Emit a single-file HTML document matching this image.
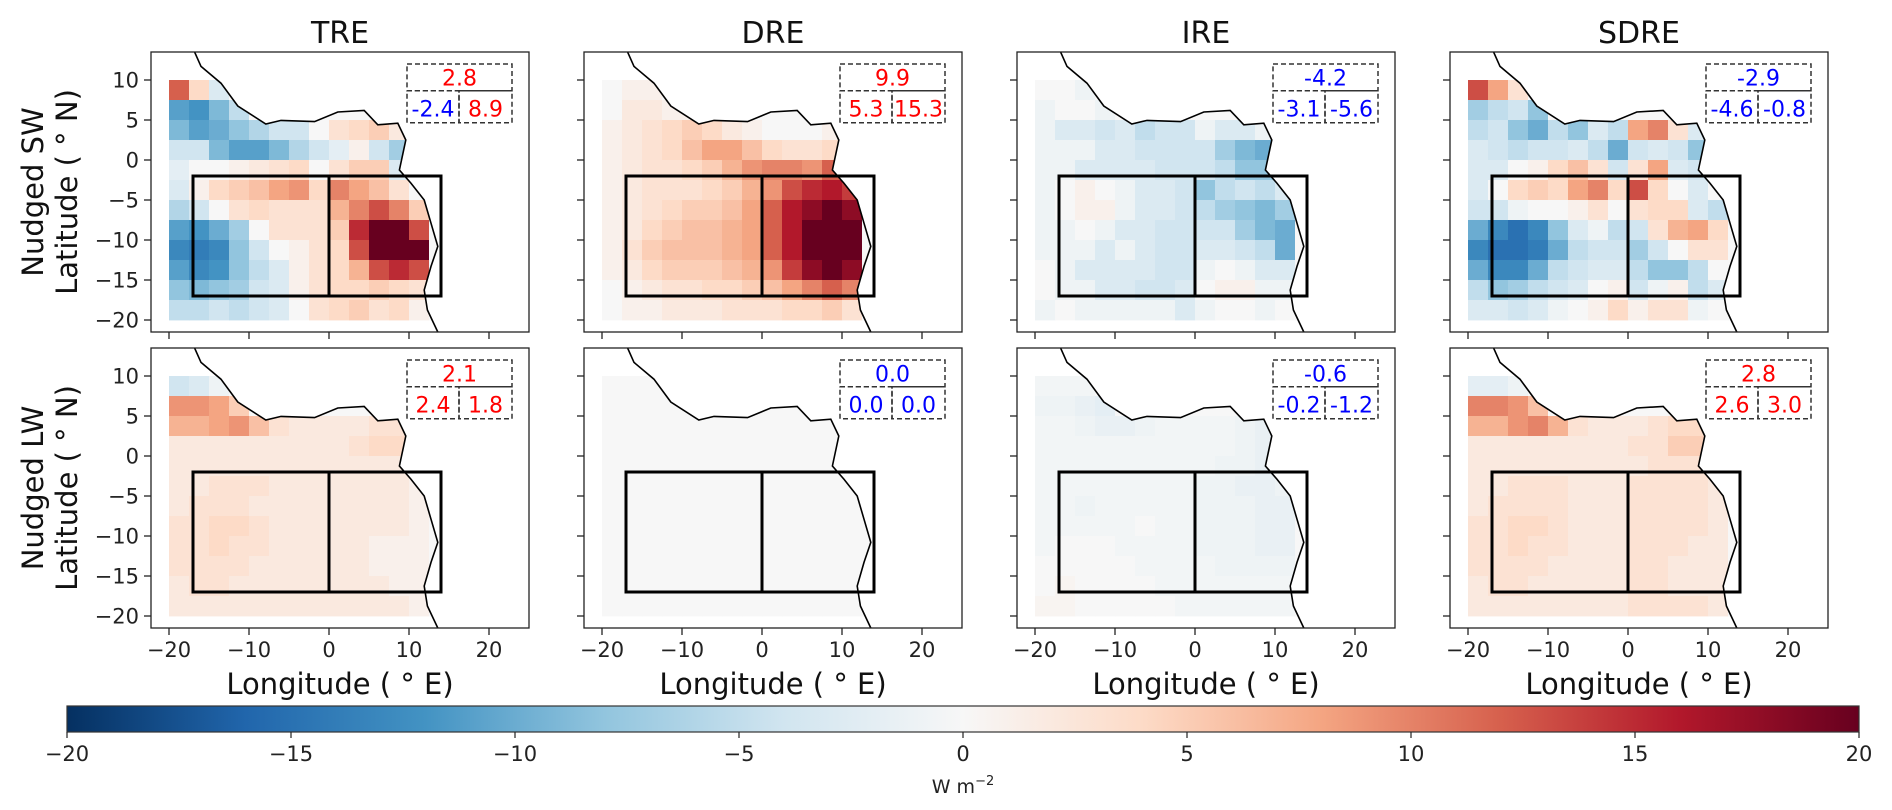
<!DOCTYPE html>
<html><head><meta charset="utf-8"><style>
html,body{margin:0;padding:0;background:#fff}
svg{display:block;font-family:"DejaVu Sans","Liberation Sans",sans-serif}
</style></head><body>
<svg id="fig" width="1892" height="810" viewBox="0 0 1892 810" xmlns="http://www.w3.org/2000/svg"></svg>
<script>
// ---- data ----
const panelTitles = ["TRE","DRE","IRE","SDRE"];
const rowLabels = ["Nudged SW","Nudged LW"];
const cellLons = [-20,-17.5,-15,-12.5,-10,-7.5,-5,-2.5,0,2.5,5,7.5,10,12.5];
const cellLats = [10,7.5,5,2.5,0,-2.5,-5,-7.5,-10,-12.5,-15,-17.5];
const xTicks = [-20,-10,0,10,20];
const yTicks = [10,5,0,-5,-10,-15,-20];
const cbTicks = [-20,-15,-10,-5,0,5,10,15,20];
const coastLon = [-16.8,-16.0,-13.5,-11.4,-7.9,-6.0,-1.8,1.1,4.4,6.1,8.6,9.6,8.8,10.25,11.9,12.75,13.6,12.75,11.9,12.3,13.6];
const coastLat = [13.5,11.7,9.6,6.75,4.5,4.95,4.8,6.0,6.2,4.4,4.6,2.5,-1.25,-2.9,-5.0,-7.9,-10.8,-13.3,-16.25,-18.75,-21.5];
const boxLons = [-17,0,14];
const boxLats = [-2,-17];

const sw_tre = [
[12,4,-3,0,0,0,0,0,0,0,0,0,0,0],
[-11,-12,-9,-5,0,0,0,0,0,0,0,0,0,0],
[-9,-11,-10,-8,-6,-4,-4,0,3,4,5,2,0,0],
[-4,-4,-9,-11,-11,-9,-6,-4,-2,1,-4,-7,0,0],
[-2,0,0,1,2,3,4,0,3,5,5,-3,0,0],
[-3,1,4,5,6,8,9,4,10,8,6,3,0,0],
[-6,-4,0,3,4,3,3,3,7,10,13,10,5,0],
[-11,-12,-10,-7,0,3,3,3,5,15,20,20,13,0],
[-13,-14,-13,-8,-4,0,1,3,4,13,20,20,20,0],
[-11,-13,-12,-8,-5,-3,1,3,4,7,13,15,13,0],
[-8,-9,-8,-7,-4,-3,1,3,4,4,5,4,3,0],
[-5,-5,-4,-5,-4,-3,0,3,4,5,3,4,1,0]];
const sw_dre = [
[0,1,1,0,0,0,0,0,0,0,0,0,0,0],
[0,2,2,1,1,0,0,0,0,0,0,0,0,0],
[1,2,3,4,5,4,2,1,0,0,0,1,0,0],
[1,2,3,4,6,8,8,6,4,3,3,4,0,0],
[1,2,3,3,4,5,7,9,10,10,9,12,0,0],
[1,2,3,3,3,4,5,7,9,13,15,16,14,0],
[1,2,3,4,5,5,6,8,12,16,18,20,18,0],
[1,2,4,5,6,6,7,8,12,16,20,20,20,0],
[1,3,5,6,6,6,7,8,12,16,20,20,20,0],
[1,2,4,5,5,5,6,7,9,14,18,20,18,0],
[0,1,2,3,3,4,4,5,6,8,10,12,10,0],
[0,1,1,2,2,2,3,3,3,4,4,5,3,0]];
const sw_ire = [
[0,0,-1,0,0,0,0,0,0,0,0,0,0,0],
[-1,0,0,-1,0,0,0,0,0,0,0,0,0,0],
[-1,-3,-3,-4,-3,-5,-4,-4,-1,-3,-3,-1,0,0],
[-1,-1,-1,-3,-3,-4,-4,-4,-4,-7,-9,-10,0,0],
[-1,-1,-3,-3,-3,-3,-4,-4,-4,-5,-8,-8,0,0],
[-1,0,1,0,-1,-3,-3,-4,-8,-5,-4,-5,-3,0],
[-1,0,1,1,-1,-3,-3,-4,-5,-7,-8,-9,-7,0],
[-1,-1,0,-1,-3,-3,-4,-4,-4,-4,-7,-9,-10,0],
[-1,-1,-1,-3,-1,-3,-4,-4,-3,-3,-4,-5,-10,0],
[0,-1,-3,-3,-3,-3,-4,-4,-1,0,-1,-3,-3,0],
[0,-1,-1,-3,-3,-4,-4,-3,0,1,1,-1,-1,0],
[-1,0,-1,-1,-1,-1,-1,-3,-1,0,0,-1,0,0]];
const sw_sdre = [
[13,8,3,0,0,0,0,0,0,0,0,0,0,0],
[-7,-5,-4,-8,0,0,0,0,0,0,0,0,0,0],
[-5,-4,-8,-10,-5,-8,-3,-5,8,10,3,-3,0,0],
[-3,-4,-5,-4,-4,-3,-5,-10,-4,-3,-4,-8,0,0],
[-3,-3,0,1,4,6,3,-4,3,8,-3,-4,0,0],
[-3,0,4,5,4,8,10,4,13,4,0,-3,0,0],
[-4,-4,-1,0,0,1,3,0,3,4,4,-3,-5,0],
[-10,-13,-15,-13,-8,-3,-1,-5,-4,3,7,8,4,0],
[-13,-15,-15,-14,-10,-5,-4,-4,-7,-4,0,3,3,0],
[-10,-13,-13,-10,-5,-4,-3,-3,-5,-8,-8,-5,0,0],
[-5,-8,-7,-5,-4,-3,0,1,-4,-1,1,-5,-3,0],
[-3,-3,-4,-3,-1,0,1,4,1,3,3,-1,0,0]];
const lw_tre = [
[-4,-3,-1,0,0,0,0,0,0,0,0,0,0,0],
[9,9,8,5,0,0,0,0,0,0,0,0,0,0],
[7,7,8,9,6,3,2,2,2,2,3,3,0,0],
[2,2,2,2,2,2,2,2,2,3,4,4,0,0],
[2,2,2,2,2,2,2,2,2,2,2,2,0,0],
[2,2,3,3,3,2,2,2,2,2,2,2,1,0],
[2,3,3,3,2,2,2,2,2,2,2,2,1,0],
[3,3,4,4,3,2,2,2,2,2,2,2,1,0],
[3,3,4,3,3,2,2,2,2,2,1,1,1,0],
[3,3,3,3,2,2,2,2,2,2,1,1,1,0],
[2,3,3,2,2,2,2,2,2,2,2,1,1,0],
[2,2,2,2,2,2,2,2,2,2,2,2,1,0]];
const lw_dre = [
[0,0,0,0,0,0,0,0,0,0,0,0,0,0],
[0,0,0,0,0,0,0,0,0,0,0,0,0,0],
[0,0,0,0,0,0,0,0,0,0,0,0,0,0],
[0,0,0,0,0,0,0,0,0,0,0,0,0,0],
[0,0,0,0,0,0,0,0,0,0,0,0,0,0],
[0,0,0,0,0,0,0,0,0,0,0,0,0,0],
[0,0,0,0,0,0,0,0,0,0,0,0,0,0],
[0,0,0,0,0,0,0,0,0,0,0,0,0,0],
[0,0,0,0,0,0,0,0,0,0,0,0,0,0],
[0,0,0,0,0,0,0,0,0,0,0,0,0,0],
[0,0,0,0,0,0,0,0,0,0,0,0,0,0],
[0,0,0,0,0,0,0,0,0,0,0,0,0,0]];
const lw_ire = [
[-0.5,-0.5,-0.5,0,0,0,0,0,0,0,0,0,0,0],
[-1,-1,-1.5,-2,0,0,0,0,0,0,0,0,0,0],
[-0.5,-0.5,-1,-1.5,-1.5,-1,-0.5,-0.5,-0.5,-0.5,-1,-1.5,0,0],
[-0.5,-0.5,-0.5,-0.5,-0.5,-0.5,-0.5,-0.5,-0.5,-0.5,-1,-1.5,0,0],
[-0.5,-0.5,-0.5,-0.5,-0.5,-0.5,-0.5,-0.5,-0.5,-1,-1,-1.5,0,0],
[-0.5,-0.5,-0.5,-0.5,-0.5,-0.5,-0.5,-0.5,-1,-1,-1.5,-1.5,-1,0],
[-0.5,-0.5,-1,-0.5,-0.5,-0.5,-0.5,-0.5,-1,-1,-1,-1.5,-1.5,0],
[-0.5,-0.5,-0.5,-0.5,-0.5,0,-0.5,-0.5,-1,-1,-1,-1.5,-1.5,0],
[-0.5,0,0,0,-0.5,-0.5,-0.5,-0.5,-1,-1,-1,-1.5,-1.5,0],
[0,0,0,0,0,-0.5,-0.5,-0.5,-0.5,-1,-1,-1,-1,0],
[0,0.5,0,0,0,0,-0.5,-0.5,-0.5,-0.5,-0.5,-0.5,-0.5,0],
[0.5,0.5,0,0,0,0,0,-0.5,-0.5,-0.5,-0.5,-0.5,-0.5,0]];
const lw_sdre = [
[-2,-2,-1,0,0,0,0,0,0,0,0,0,0,0],
[10,10,9,6,0,0,0,0,0,0,0,0,0,0],
[7,7,9,10,7,3,2,2,2,3,4,4,0,0],
[2,2,2,2,2,2,2,2,3,3,5,5,0,0],
[2,2,2,2,2,2,2,2,2,3,3,3,0,0],
[2,2,3,3,3,2,2,2,3,3,3,3,2,0],
[2,3,3,3,3,2,2,2,3,3,3,3,2,0],
[3,3,4,4,3,2,2,2,3,3,3,3,2,0],
[3,3,4,3,3,2,2,2,3,3,3,2,2,0],
[3,3,3,3,2,2,2,2,3,3,2,2,2,0],
[2,3,3,2,2,2,2,2,3,3,2,2,2,0],
[2,2,2,2,2,2,2,2,3,3,3,3,2,0]];
const panelData = [[sw_tre,sw_dre,sw_ire,sw_sdre],[lw_tre,lw_dre,lw_ire,lw_sdre]];
const annTop = [[2.8,9.9,-4.2,-2.9],[2.1,0.0,-0.6,2.8]];
const annLeft = [[-2.4,5.3,-3.1,-4.6],[2.4,0.0,-0.2,2.6]];
const annRight = [[8.9,15.3,-5.6,-0.8],[1.8,0.0,-1.2,3.0]];

// ---- layout ----
const NS="http://www.w3.org/2000/svg";
const svg=document.getElementById('fig');
const PW=378, PH=280, colX=[151,584,1017,1450], rowY=[52,348];
const LON0=-22.25, LON1=25, LAT0=-21.5, LAT1=13.5;
const cmap=["#053061","#2166ac","#4393c3","#92c5de","#d1e5f0","#f7f7f7","#fddbc7","#f4a582","#d6604d","#b2182b","#67001f"];
function hex(h){return [parseInt(h.substr(1,2),16),parseInt(h.substr(3,2),16),parseInt(h.substr(5,2),16)];}
function color(v){let t=(Math.max(-20,Math.min(20,v))+20)/40*10;let i=Math.min(9,Math.floor(t));let f=t-i;let a=hex(cmap[i]),b=hex(cmap[i+1]);
 return `rgb(${a.map((c,k)=>Math.round(c+(b[k]-c)*f)).join(',')})`;}
function mk(tag,attrs,parent){const e=document.createElementNS(NS,tag);for(const k in attrs)e.setAttribute(k,attrs[k]);(parent||svg).appendChild(e);return e;}
function fmt(v){return v.toFixed(1);}
const defs=mk('defs',{});

for(let r=0;r<2;r++)for(let c=0;c<4;c++){
  const ox=colX[c], oy=rowY[r];
  const X=lon=>ox+(lon-LON0)/(LON1-LON0)*PW;
  const Y=lat=>oy+(LAT1-lat)/(LAT1-LAT0)*PH;
  const g=mk('g',{});
  
  
  const cp=mk('clipPath',{id:`cp${r}${c}`},defs);
  mk('rect',{x:ox,y:oy,width:PW,height:PH},cp);
  const hm=mk('g',{'clip-path':`url(#cp${r}${c})`},g);
  
  
  const d=panelData[r][c];
  for(let i=0;i<cellLats.length;i++)for(let j=0;j<cellLons.length;j++){
    const x0=X(cellLons[j]), x1=X(cellLons[j]+2.5), y0=Y(cellLats[i]), y1=Y(cellLats[i]-2.5);
    const cell=mk('rect',{x:x0.toFixed(2),y:y0.toFixed(2),width:(x1-x0+0.4).toFixed(2),height:(y1-y0+0.4).toFixed(2),fill:color(d[i][j])},hm);
    
    
  }
  let pts=coastLon.map((lo,k)=>`${X(lo).toFixed(1)},${Y(coastLat[k]).toFixed(1)}`);
  const land=mk('polygon',{points:pts.join(' ')+` ${X(LON1)},${Y(LAT0)} ${X(LON1)},${Y(LAT1)}`,fill:'#fff'},hm);
  
  
  const coast=mk('polyline',{points:pts.join(' '),fill:'none',stroke:'#000','stroke-width':1.6},hm);
  
  
  for(let b=0;b<2;b++){
    const rb=mk('rect',{x:X(boxLons[b]),y:Y(boxLats[0]),width:X(boxLons[b+1])-X(boxLons[b]),height:Y(boxLats[1])-Y(boxLats[0]),fill:'none',stroke:'#000','stroke-width':3},g);
    
    
  }
  const fr=mk('rect',{x:ox,y:oy,width:PW,height:PH,fill:'none',stroke:'#222','stroke-width':1.3},g);
  
  
  xTicks.forEach(t=>{
    const tk=mk('line',{x1:X(t),x2:X(t),y1:oy+PH,y2:oy+PH+7,stroke:'#222','stroke-width':1.3},g);
    
    
    if(r===1){const tl=mk('text',{x:X(t),y:oy+PH+29,'font-size':21,'text-anchor':'middle',fill:'#222'},g);tl.textContent=(t<0?'\u2212':'')+Math.abs(t);
      
      }
  });
  yTicks.forEach(t=>{
    const tk=mk('line',{x1:ox-7,x2:ox,y1:Y(t),y2:Y(t),stroke:'#222','stroke-width':1.3},g);
    
    
    if(c===0){const tl=mk('text',{x:ox-12,y:Y(t)+7.5,'font-size':21,'text-anchor':'end',fill:'#222'},g);tl.textContent=(t<0?'\u2212':'')+Math.abs(t);
      
      }
  });
  const ax0=ox+256, ax1=ox+361, axm=ox+308, ay0=oy+12, aym=oy+38.7, ay1=oy+70.7;
  const ann=mk('g',{},g);
  
  
  const ds={fill:'none',stroke:'#333','stroke-width':1.5,'stroke-dasharray':'5,3'};
  mk('rect',Object.assign({x:ax0,y:ay0,width:ax1-ax0,height:aym-ay0},ds),ann);
  mk('rect',Object.assign({x:ax0,y:aym,width:axm-ax0,height:ay1-aym},ds),ann);
  mk('rect',Object.assign({x:axm,y:aym,width:ax1-axm,height:ay1-aym},ds),ann);
  [[annTop[r][c],(ax0+ax1)/2,aym-5,'total'],[annLeft[r][c],(ax0+axm)/2,ay1-6,'west'],[annRight[r][c],(axm+ax1)/2,ay1-6,'east']].forEach(a=>{
    const t=mk('text',{x:a[1],y:a[2],'font-size':22,'text-anchor':'middle',fill:(a[0]>0?'#ff0000':'#0000ff')},ann);
    t.textContent=fmt(a[0]);
    
    
  });
  if(r===0){const tt=mk('text',{x:ox+PW/2,y:43,'font-size':30,'text-anchor':'middle',fill:'#111'},g);tt.textContent=panelTitles[c];
    
    }
  else{const xl=mk('text',{x:ox+PW/2,y:694,'font-size':29,'text-anchor':'middle',fill:'#111'},g);xl.textContent='Longitude ( \u00B0 E)';
    
    }
  if(c===0){
    const cy=oy+PH/2;
    const yl=mk('text',{transform:`translate(43,${cy}) rotate(-90)`,'font-size':29,'text-anchor':'middle',fill:'#111'},g);
    yl.textContent=rowLabels[r];
    
    
    const yl2=mk('text',{transform:`translate(77,${cy}) rotate(-90)`,'font-size':29,'text-anchor':'middle',fill:'#111'},g);
    yl2.textContent='Latitude ( \u00B0 N)';
    
    
  }
}
const CB0=67, CB1=1859, CBY=706, CBH=26;
const grad=mk('linearGradient',{id:'cbg',x1:0,x2:1,y1:0,y2:0},defs);
cmap.forEach((h,i)=>mk('stop',{offset:i/10,'stop-color':h},grad));
const cb=mk('g',{});


mk('rect',{x:CB0,y:CBY,width:CB1-CB0,height:CBH,fill:'url(#cbg)',stroke:'#333','stroke-width':1.2},cb);
const CX=v=>CB0+(v+20)/40*(CB1-CB0);
cbTicks.forEach(t=>{
  const l=mk('line',{x1:CX(t),x2:CX(t),y1:CBY+CBH,y2:CBY+CBH+6,stroke:'#222','stroke-width':1.2},cb);
  
  
  const tl=mk('text',{x:CX(t),y:761,'font-size':21,'text-anchor':'middle',fill:'#222'},cb);
  tl.textContent=(t<0?'\u2212':'')+Math.abs(t);
  
  
});
const unit=mk('text',{x:963,y:793,'font-size':19,'text-anchor':'middle',fill:'#222'},cb);
unit.innerHTML='W m<tspan dy="-8" font-size="13">\u22122</tspan>';


</script>
</body></html>
